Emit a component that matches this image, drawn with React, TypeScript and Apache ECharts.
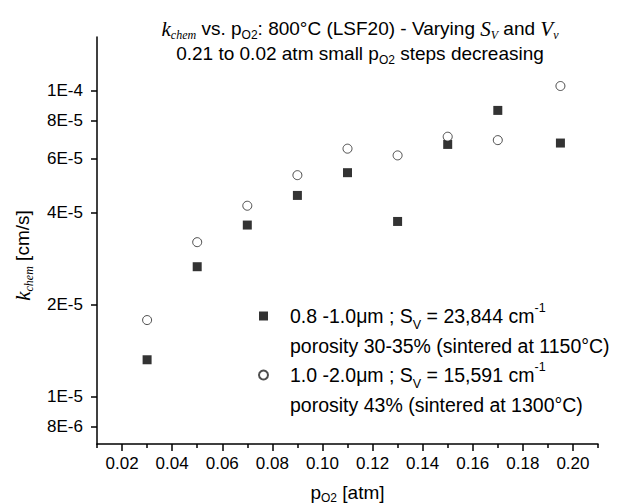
import React, { useEffect, useRef } from "react";
import * as echarts from "echarts";

// ---- data ----
const pO2 = [0.03, 0.05, 0.07, 0.09, 0.11, 0.13, 0.15, 0.17, 0.195];
const kFine = [1.32e-5, 2.66e-5, 3.64e-5, 4.55e-5, 5.4e-5, 3.74e-5, 6.68e-5, 8.63e-5, 6.75e-5];
const kCoarse = [1.78e-5, 3.2e-5, 4.21e-5, 5.3e-5, 6.47e-5, 6.15e-5, 7.08e-5, 6.9e-5, 1.037e-4];

const xTicks = [0.02, 0.04, 0.06, 0.08, 0.1, 0.12, 0.14, 0.16, 0.18, 0.2];
const X_MIN = 0.01;
const X_MAX = 0.21;
const X_STEP = 0.02;

const yTickValues = [8e-6, 1e-5, 2e-5, 4e-5, 6e-5, 8e-5, 1e-4];
const yTickLabels = ["8E-6", "1E-5", "2E-5", "4E-5", "6E-5", "8E-5", "1E-4"];
const Y_MIN = 7e-6;
const Y_MAX = 1.5e-4;

const seriesNames = ["fine", "coarse"];
const legendTexts: Record<string, string> = {
  fine: "0.8 -1.0μm ; S{sub|V} = 23,844 cm{sup|-1}\nporosity 30-35% (sintered at 1150°C)",
  coarse: "1.0 -2.0μm ; S{sub|V} = 15,591 cm{sup|-1}\nporosity 43% (sintered at 1300°C)",
};

const SANS = "'Liberation Sans', Arial, sans-serif";
const SERIF = "'Liberation Serif', 'Times New Roman', serif";

export default function App() {
  const ref = useRef<HTMLDivElement>(null);

  useEffect(() => {
    document.body.style.margin = "0";
    const chart = echarts.init(ref.current!, null, { renderer: "svg" });
    const lg = (v: number) => Math.log10(v);
    const yLabel = (v: number) => {
      let best = 0;
      let d = Infinity;
      yTickValues.forEach((t, i) => {
        const dd = Math.abs(lg(t) - v);
        if (dd < d) {
          d = dd;
          best = i;
        }
      });
      return yTickLabels[best];
    };

    const titleRich = {
      t: { fontSize: 19, fontFamily: SANS, color: "#000", lineHeight: 25 },
      sub: { fontSize: 12, fontFamily: SANS, color: "#000", lineHeight: 12, verticalAlign: "bottom" },
      it: { fontSize: 21, fontFamily: SERIF, fontStyle: "italic", color: "#000", lineHeight: 25 },
      itsub: { fontSize: 12, fontFamily: SERIF, fontStyle: "italic", color: "#000", lineHeight: 10, verticalAlign: "bottom" },
    };

    const option: any = {
      animation: false,
      backgroundColor: "#fff",
      title: {
        text:
          "{it|k}{itsub|chem}{t| vs. p}{sub|O2}{t|: 800°C (LSF20) - Varying }{it|S}{itsub|V}{t| and }{it|V}{itsub|v}\n" +
          "{t|0.21 to 0.02 atm small p}{sub|O2}{t| steps decreasing}",
        left: 360,
        top: 16,
        textAlign: "center",
        padding: 0,
        textStyle: { rich: titleRich, fontSize: 19, fontFamily: SANS, color: "#000", fontWeight: "normal", lineHeight: 25 },
      },
      grid: { left: 97, right: 25, top: 37, bottom: 59, containLabel: false, outerBoundsMode: "none" },
      xAxis: {
        type: "value",
        min: X_MIN,
        max: X_MAX,
        interval: X_STEP,
        position: "bottom",
        name: "{t|p}{sub|O2}{t| [atm]}",
        nameLocation: "middle",
        nameGap: 36,
        nameTextStyle: {
          rich: {
            t: { fontSize: 19, fontFamily: SANS, color: "#000", lineHeight: 24 },
            sub: { fontSize: 12, fontFamily: SANS, color: "#000", lineHeight: 12, verticalAlign: "bottom" },
          },
        },
        axisLine: { show: true, onZero: false, lineStyle: { color: "#000", width: 1.5 } },
        // ticks counted from min fall on the odd hundredths (short); minor ticks land on the labelled values (long)
        axisTick: { show: true, inside: false, length: 4, lineStyle: { color: "#000", width: 1.5 } },
        minorTick: { show: true, splitNumber: 2, length: 7, lineStyle: { color: "#000", width: 1.5 } },
        axisLabel: {
          customValues: xTicks,
          formatter: (v: number) => v.toFixed(2),
          fontSize: 17,
          fontFamily: SANS,
          color: "#000",
          margin: 11,
        },
        splitLine: { show: false },
        minorSplitLine: { show: false },
      },
      yAxis: {
        type: "value",
        min: lg(Y_MIN),
        max: lg(Y_MAX),
        name: "{k|k}{ks|chem}{t| [cm/s]}",
        nameLocation: "middle",
        nameGap: 62,
        nameTextStyle: {
          padding: [0, 30, 0, 0],
          rich: {
            t: { fontSize: 19, fontFamily: SANS, color: "#000", lineHeight: 25 },
            k: { fontSize: 21, fontFamily: SERIF, fontStyle: "italic", color: "#000", lineHeight: 25 },
            ks: { fontSize: 12, fontFamily: SERIF, fontStyle: "italic", color: "#000", lineHeight: 10, verticalAlign: "bottom" },
          },
        },
        axisLine: { show: true, onZero: false, lineStyle: { color: "#000", width: 1.5 } },
        axisTick: {
          show: true,
          inside: false,
          customValues: yTickValues.map(lg),
          length: 6,
          lineStyle: { color: "#000", width: 1.5 },
        },
        axisLabel: {
          customValues: yTickValues.map(lg),
          formatter: yLabel,
          fontSize: 17,
          fontFamily: SANS,
          color: "#000",
          margin: 14,
        },
        splitLine: { show: false },
      },
      legend: {
        orient: "vertical",
        left: 258,
        top: 271,
        padding: 0,
        itemWidth: 9,
        itemHeight: 9,
        itemGap: -31,
        data: seriesNames,
        formatter: (name: string) => legendTexts[name],
        textStyle: {
          fontSize: 19.5,
          fontFamily: SANS,
          color: "#000",
          lineHeight: 30,
          padding: [30, 0, 0, 17],
          rich: {
            sub: { fontSize: 12.5, fontFamily: SANS, color: "#000", lineHeight: 18, verticalAlign: "bottom" },
            sup: { fontSize: 12.5, fontFamily: SANS, color: "#000", lineHeight: 14, verticalAlign: "top" },
          },
        },
        selectedMode: false,
      },
      series: [
        {
          name: seriesNames[0],
          type: "scatter",
          symbol: "rect",
          symbolSize: 9,
          itemStyle: { color: "#000" },
          data: pO2.map((x, i) => [x, lg(kFine[i])]),
        },
        {
          name: seriesNames[1],
          type: "scatter",
          symbol: "circle",
          symbolSize: 9,
          itemStyle: { color: "#fff", borderColor: "#222", borderWidth: 1 },
          data: pO2.map((x, i) => [x, lg(kCoarse[i])]),
        },
      ],
    };
    chart.setOption(option);
    return () => chart.dispose();
  }, []);

  return (
    <div
      ref={ref}
      style={{ position: "fixed", left: 0, top: 0, width: 623, height: 503, background: "#fff" }}
    />
  );
}
